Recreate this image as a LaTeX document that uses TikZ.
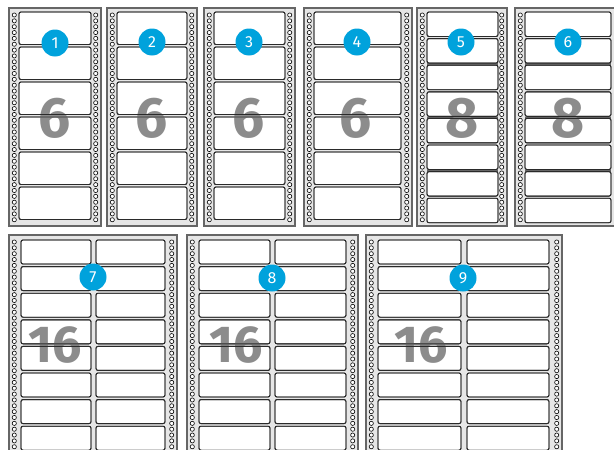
\documentclass[tikz,border=0pt]{standalone}
\usepackage{fontspec}
\setmainfont{Fira Sans}
\definecolor{sheetbg}{HTML}{E6E6E6}
\definecolor{sheetline}{HTML}{666666}
\definecolor{lbl}{HTML}{2A2A2A}
\definecolor{badge}{HTML}{00A2DC}
\definecolor{digit}{HTML}{8C8C8C}
\tikzset{
  sheet/.style={fill=sheetbg, draw=sheetline, line width=1.2pt},
  labfill/.style={fill=white, draw=lbl, line width=0.9pt, rounded corners=2pt},
  labline/.style={draw=lbl, line width=0.9pt, rounded corners=2pt},
  hole/.style={draw=black, fill=white, line width=0.6pt},
  perf/.style={draw=sheetline, line width=2pt},
  badgenode/.style={circle, fill=badge, minimum size=27pt, inner sep=0pt, text=white, font=\fontsize{16}{16}\selectfont},
  bigdigit/.style={text=digit, inner sep=0pt, font=\fontsize{57}{57}\selectfont\bfseries},
  bigdigitb/.style={text=digit, inner sep=0pt, font=\fontsize{52}{52}\selectfont\bfseries},
}
% sheet frame with two hole columns: #1 x1, #2 x2, #3 y1, #4 y2, #5 first hole y, #6 last hole index
\newcommand\mysheet[6]{%
  \draw[sheet] (#1,#3) rectangle (#2,#4);
  \foreach \k in {0,...,#6}{%
    \draw[hole] (#1+5.3,#5+5.85*\k) circle[radius=2.1];
    \draw[hole] (#2-5.3,#5+5.85*\k) circle[radius=2.1];}%
}
% top-row labels: #1 style, #2 lx1, #3 lx2, #4 last index, #5 pitch, #6 height
\newcommand\toplabels[6]{%
  \foreach \k in {0,...,#4}{\draw[#1] (#2,12+#5*\k) rectangle (#3,12+#5*\k+#6);}%
}
% bottom-row labels, two columns: #1 style, #2..#5 x edges
\newcommand\botlabels[5]{%
  \foreach \k in {0,...,8}{%
    \draw[#1] (#2,240+26.6*\k) rectangle (#3,264+26.6*\k);
    \draw[#1] (#4,240+26.6*\k) rectangle (#5,264+26.6*\k);}%
}
\begin{document}
\begin{tikzpicture}[x=1pt,y=-1pt]
\useasboundingbox (0,0) rectangle (614,450);
\clip (0,0) rectangle (614,450);
\fill[white] (0,0) rectangle (614,450);
% top row sheets
\mysheet{9}{101}{8}{226}{15}{35}
\mysheet{107}{197}{8}{226}{15}{35}
\mysheet{204}{295}{8}{226}{15}{35}
\mysheet{304}{412}{8}{226}{15}{35}
\mysheet{417}{507}{8}{226}{15}{35}
\mysheet{515}{623}{8}{226}{15}{35}
% bottom row sheets
\mysheet{9}{177}{235}{470}{242}{36}
\mysheet{187}{358}{235}{470}{242}{36}
\mysheet{366}{562}{235}{470}{242}{36}
% labels (filled)
\toplabels{labfill}{19}{91}{5}{35}{32.5}
\toplabels{labfill}{117}{187}{5}{35}{32.5}
\toplabels{labfill}{214}{285}{5}{35}{32.5}
\toplabels{labfill}{314}{401}{5}{35}{32.5}
\toplabels{labfill}{427}{498}{7}{26.6}{24.5}
\toplabels{labfill}{525}{611}{7}{26.6}{24.5}
\botlabels{labfill}{21}{91}{96}{165}
\botlabels{labfill}{199}{270}{275}{346}
\botlabels{labfill}{378}{461}{467}{549}
% perforation lines on the 8-label sheets
\foreach \py in {64.2,117.5,170.8}{%
  \draw[perf] (427,\py) -- (498,\py);
  \draw[perf] (525,\py) -- (611,\py);}
% big counts
\node[bigdigit] (d1) at (55,118) {6};
\node[bigdigit] (d2) at (152,118) {6};
\node[bigdigit] (d3) at (249,118) {6};
\node[bigdigit] (d4) at (356,118) {6};
\node[bigdigit] (d5) at (462,118) {8};
\node[bigdigit] (d6) at (568,118) {8};
\node[bigdigitb] (d7) at (55,345) {16};
\node[bigdigitb] (d8) at (236,345) {16};
\node[bigdigitb] (d9) at (421,345) {16};
% label outlines over the counts
\toplabels{labline}{19}{91}{5}{35}{32.5}
\toplabels{labline}{117}{187}{5}{35}{32.5}
\toplabels{labline}{214}{285}{5}{35}{32.5}
\toplabels{labline}{314}{401}{5}{35}{32.5}
\toplabels{labline}{427}{498}{7}{26.6}{24.5}
\toplabels{labline}{525}{611}{7}{26.6}{24.5}
\botlabels{labline}{21}{91}{96}{165}
\botlabels{labline}{199}{270}{275}{346}
\botlabels{labline}{378}{461}{467}{549}
% badges
\node[badgenode] (b1) at (55,43) {1};
\node[badgenode] (b2) at (152,42) {2};
\node[badgenode] (b3) at (249,42) {3};
\node[badgenode] (b4) at (357,42) {4};
\node[badgenode] (b5) at (461,42) {5};
\node[badgenode] (b6) at (568,42) {6};
\node[badgenode] (b7) at (93,277) {7};
\node[badgenode] (b8) at (272,278) {8};
\node[badgenode] (b9) at (463,278) {9};
\end{tikzpicture}
\end{document}
